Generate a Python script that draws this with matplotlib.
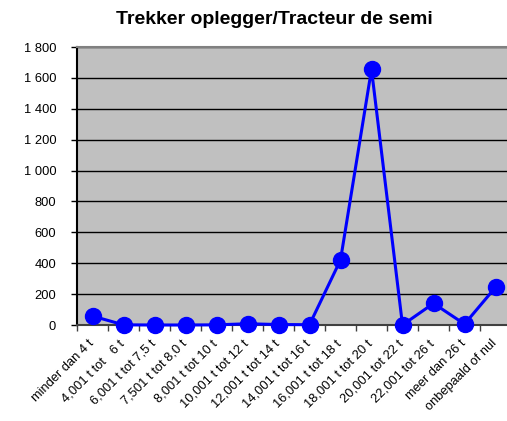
import numpy as np
import matplotlib.pyplot as plt
import matplotlib.transforms as mtransforms
from matplotlib.ticker import FuncFormatter, FixedLocator

plt.rcParams['font.family'] = ['Liberation Sans', 'DejaVu Sans']

# weight classes and counts
categories = ['minder dan 4 t', '4,001 t tot   6 t', '6,001 t tot 7,5 t', '7,501 t tot 8,0 t',
              '8,001 t tot 10 t', '10,001 t tot 12 t', '12,001 t tot 14 t', '14,001 t tot 16 t',
              '16,001 t tot 18 t', '18,001 t tot 20 t', '20,001 tot 22 t', '22,001 tot 26 t',
              'meer dan 26 t', 'onbepaald of nul']
values = [58, 1, 0, 0, 1, 8, 3, 2, 421, 1655, 0, 140, 6, 244]

fig = plt.figure(figsize=(5.07, 4.21), dpi=100)
# plot area runs a little past the right edge, as in the original export
ax = fig.add_axes([77 / 507, 1 - 325 / 421, 434 / 507, 278 / 421])
ax.set_facecolor('#c0c0c0')

x = np.arange(len(categories))
ax.plot(x, values, color='#0000ff', lw=2.2, marker='o', ms=11.5, zorder=3, clip_on=False)

ax.set_xlim(-0.5, len(categories) - 0.5)
ax.set_ylim(0, 1800)
ax.set_yticks(np.arange(0, 1801, 200))
ax.yaxis.set_major_formatter(FuncFormatter(lambda v, p: f'{int(v):,}'.replace(',', ' ')))
ax.grid(axis='y', color='black', lw=1.0)
ax.set_axisbelow(True)

ax.set_xticks(x)
ax.set_xticklabels(categories, rotation=45, ha='right', rotation_mode='anchor', fontsize=9.3)
ax.tick_params(axis='x', which='major', length=0, pad=9)
shift = mtransforms.ScaledTranslation(-5 / 100, 0, fig.dpi_scale_trans)
for lab in ax.get_xticklabels():
    lab.set_transform(lab.get_transform() + shift)
ax.xaxis.set_minor_locator(FixedLocator(np.arange(-0.5, len(categories), 1)))
ax.tick_params(axis='x', which='minor', length=4, width=1, color='#404040')
ax.tick_params(axis='y', labelsize=9.3, length=4, width=1, pad=11)

ax.spines['left'].set_linewidth(1.5)
ax.spines['bottom'].set_color('#404040')
ax.spines['bottom'].set_linewidth(1.5)
ax.spines['top'].set_color('#808080')
ax.spines['top'].set_linewidth(1.5)
ax.spines['right'].set_visible(False)

fig.text(274 / 507, 1 - 20 / 421, 'Trekker oplegger/Tracteur de semi', ha='center', va='center',
         fontsize=14, fontweight='bold')

fig.savefig('out.png', dpi=100)
